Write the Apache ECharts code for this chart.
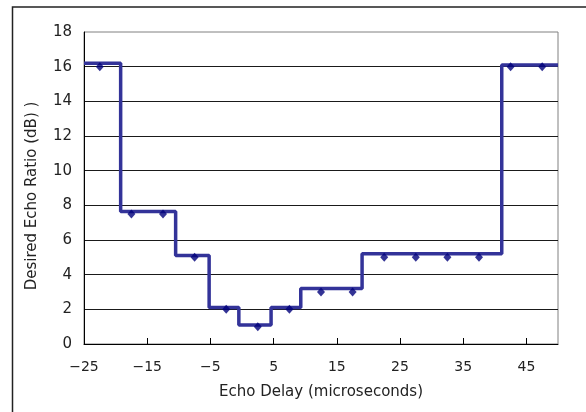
<!DOCTYPE html>
<html>
<head>
<meta charset="utf-8">
<style>
  html, body { margin: 0; padding: 0; background: #fff; }
  #chart { width: 586px; height: 412px; }
</style>
<script src="https://cdn.jsdelivr.net/npm/echarts@6/dist/echarts.min.js"></script>
</head>
<body>
<div id="chart"></div>
<script>
// Measured points: desired echo ratio at each echo delay
const markerDelays = [-22.5, -17.5, -12.5, -7.5, -2.5, 2.5, 7.5, 12.5, 17.5, 22.5, 27.5, 32.5, 37.5, 42.5, 47.5];
const markerRatios = [16, 7.5, 7.5, 5, 2, 1, 2, 3, 3, 5, 5, 5, 5, 16, 16];

// Stepped threshold curve: edges of each delay band and the level held across it
const stepEdges = [-25, -19.2, -10.5, -5.2, -0.5, 4.6, 9.3, 19.0, 41.1, 50];
const stepLevels = [16.2, 7.65, 5.1, 2.1, 1.1, 2.1, 3.2, 5.2, 16.1];

const xTitle = 'Echo Delay (microseconds)';
const yTitle = 'Desired Echo Ratio (dB) )';

const stepPath = [];
stepLevels.forEach((lvl, i) => {
  stepPath.push([stepEdges[i], lvl]);
  stepPath.push([stepEdges[i + 1], lvl]);
});

const font = 'DejaVu Sans, Liberation Sans, sans-serif';
const chart = echarts.init(document.getElementById('chart'), null, { renderer: 'canvas' });
chart.setOption({
  animation: false,
  backgroundColor: '#fff',
  grid: { left: 84, top: 32, right: 28, bottom: 68, show: true, borderColor: '#808080', borderWidth: 1, containLabel: false },
  graphic: [{
    type: 'rect',
    shape: { x: 12.5, y: 7, width: 700, height: 500 },
    style: { fill: 'none', stroke: '#222', lineWidth: 1.5 },
    silent: true
  }],
  xAxis: {
    type: 'value',
    min: -25, max: 50, interval: 10,
    name: xTitle,
    nameLocation: 'middle',
    nameGap: 41,
    nameTextStyle: { fontFamily: font, fontSize: 15, color: '#222' },
    axisLine: { onZero: false, lineStyle: { color: '#000', width: 1 } },
    axisTick: { show: true, inside: true, length: 6, lineStyle: { color: '#000', width: 1 } },
    axisLabel: {
      fontFamily: font, fontSize: 14, color: '#222', margin: 16,
      showMaxLabel: false,
      formatter: v => (v === 50 ? '' : String(v).replace('-', '\u2212'))
    },
    splitLine: { show: false }
  },
  yAxis: {
    type: 'value',
    min: 0, max: 18, interval: 2,
    name: yTitle,
    nameLocation: 'middle',
    nameRotate: 90,
    nameGap: 44,
    nameTextStyle: { fontFamily: font, fontSize: 15, color: '#222', padding: [0, 16, 0, 0] },
    axisLine: { show: true, onZero: false, lineStyle: { color: '#000', width: 1 } },
    axisTick: { show: false },
    axisLabel: { fontFamily: font, fontSize: 15, color: '#222', margin: 12 },
    splitLine: { show: true, showMinLine: false, showMaxLine: false, lineStyle: { color: '#1a1a1a', width: 1 } }
  },
  series: [
    {
      type: 'line',
      data: stepPath,
      showSymbol: false,
      symbol: 'none',
      lineStyle: { color: '#333399', width: 3.5 },
      z: 3
    },
    {
      type: 'scatter',
      data: markerDelays.map((d, i) => [d, markerRatios[i]]),
      symbol: 'diamond',
      symbolSize: [8, 9],
      itemStyle: { color: '#00007a' },
      z: 4
    }
  ]
});
</script>
</body>
</html>
